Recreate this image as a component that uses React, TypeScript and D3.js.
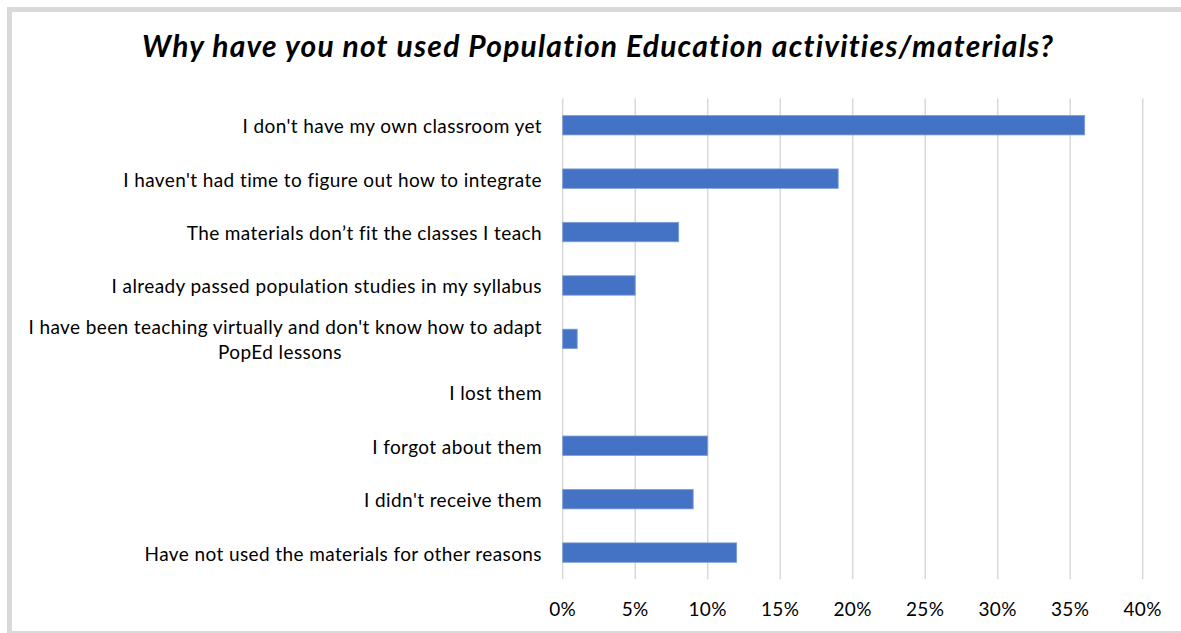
import React from "react";
import * as d3 from "d3";

const TITLE = "Why have you not used Population Education activities/materials?";
const categories: string[][] = [
  ["I don't have my own classroom yet"],
  ["I haven't had time to figure out how to integrate"],
  ["The materials don’t fit the classes I teach"],
  ["I already passed population studies in my syllabus"],
  ["I have been teaching virtually and don't know how to adapt", "PopEd lessons"],
  ["I lost them"],
  ["I forgot about them"],
  ["I didn't receive them"],
  ["Have not used the materials for other reasons"],
];
const values = [36, 19, 8, 5, 1, 0, 10, 9, 12];
const ticks = [0, 5, 10, 15, 20, 25, 30, 35, 40];

const W = 1181;
const H = 633;
const FONT = "Lato, 'Noto Sans', sans-serif";

export default function App() {
  const x = d3.scaleLinear().domain([0, 40]).range([562.7, 1142.7]);
  const y = d3
    .scaleBand<number>()
    .domain(d3.range(categories.length))
    .range([98.5, 579.3])
    .paddingInner(0.636)
    .paddingOuter(0.318);
  const bw = y.bandwidth();
  const lineH = 25;

  return (
    <svg
      width={W}
      height={H}
      style={{ position: "absolute", left: 0, top: 0, background: "#fff" }}
      fontFamily={FONT}
    >
      <rect x={0} y={0} width={W} height={H} fill="#fff" />
      <rect x={9.5} y={9.5} width={1200} height={624} fill="#fff" stroke="#d9d9d9" strokeWidth={5} />
      <text
        x={598}
        y={57}
        textAnchor="middle"
        fontSize={30}
        fontWeight="bold"
        fontStyle="italic"
        letterSpacing={1.2}
        fill="#000"
      >
        {TITLE}
      </text>
      {ticks.map((t) => (
        <g key={t}>
          <line x1={x(t)} x2={x(t)} y1={98.5} y2={579.3} stroke="#d9d9d9" strokeWidth={1.5} />
          <text
            x={x(t)}
            y={608}
            textAnchor="middle"
            dominantBaseline="central"
            fontSize={19}
            letterSpacing={0.4}
            fill="#000"
          >
            {d3.format("d")(t) + "%"}
          </text>
        </g>
      ))}
      {values.map((v, i) => (
        <rect
          key={i}
          x={x(0)}
          y={y(i)!}
          width={x(v) - x(0)}
          height={bw}
          fill="#4472c4"
          stroke={v > 0 ? "#7f9fd8" : "none"}
          strokeWidth={0.8}
        />
      ))}
      {categories.map((lines, i) => {
        const cy = y(i)! + bw / 2;
        const y0 = cy - ((lines.length - 1) * lineH) / 2;
        return (
          <text key={i} fontSize={19} letterSpacing={0.4} fill="#000" dominantBaseline="central">
            {lines.map((ln, j) => (
              <tspan
                key={j}
                x={j === 0 ? 542 : 280}
                y={y0 + j * lineH}
                textAnchor={j === 0 ? "end" : "middle"}
              >
                {ln}
              </tspan>
            ))}
          </text>
        );
      })}
    </svg>
  );
}
